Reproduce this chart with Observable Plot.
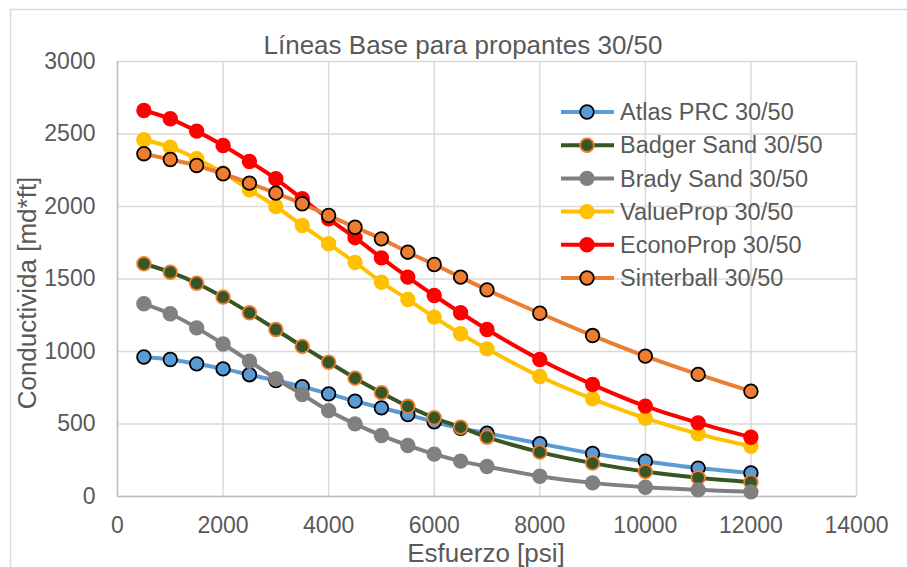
<!DOCTYPE html>
<html>
<head>
<meta charset="utf-8">
<script src="https://cdn.jsdelivr.net/npm/d3@7"></script>
<script src="https://cdn.jsdelivr.net/npm/@observablehq/plot@0.6"></script>
<style>
  body { margin: 0; background: #fff; }
  #chart { position: relative; width: 907px; height: 567px; overflow: hidden; }
</style>
</head>
<body>
<div id="chart"></div>
<script>
// Closure stress (psi) for every measured point
const stress = [500, 1000, 1500, 2000, 2500, 3000, 3500, 4000, 4500, 5000, 5500, 6000, 6500, 7000, 8000, 9000, 10000, 11000, 12000];

// Baseline conductivity (md*ft) per proppant
const atlas      = [962, 945, 915, 880, 840, 800, 758, 708, 658, 611, 565, 515, 470, 437, 365, 297, 243, 196, 162];
const badger     = [1605, 1547, 1471, 1375, 1267, 1152, 1035, 926, 816, 716, 622, 543, 478, 409, 306, 230, 172, 129, 99];
const brady      = [1329, 1260, 1163, 1052, 933, 812, 703, 592, 501, 421, 352, 292, 244, 207, 140, 94, 64, 46, 32];
const valueProp  = [2460, 2409, 2329, 2232, 2115, 2000, 1869, 1743, 1614, 1478, 1359, 1237, 1122, 1018, 828, 674, 540, 432, 347];
const econoProp  = [2662, 2605, 2520, 2421, 2310, 2191, 2053, 1915, 1785, 1646, 1513, 1386, 1267, 1152, 945, 772, 623, 508, 409];
const sinterball = [2364, 2324, 2283, 2226, 2161, 2092, 2019, 1938, 1857, 1777, 1685, 1600, 1513, 1425, 1264, 1110, 968, 842, 726];

const seriesNames = ["Atlas PRC 30/50", "Badger Sand 30/50", "Brady Sand 30/50", "ValueProp 30/50", "EconoProp 30/50", "Sinterball 30/50"];
const lineColors  = ["#5B9BD5", "#375623", "#808080", "#FFC000", "#FF0000", "#ED7D31"];
const dotStrokes  = ["#000000", "#ED7D31", "#808080", "#FFC000", "#FF0000", "#000000"];

const xTicks = [0, 2000, 4000, 6000, 8000, 10000, 12000, 14000];
const yTicks = [0, 500, 1000, 1500, 2000, 2500, 3000];

const titleText = "Líneas Base para propantes 30/50";
const xLabel = "Esfuerzo [psi]";
const yLabel = "Conductivida [md*ft]";

const seriesValues = [atlas, badger, brady, valueProp, econoProp, sinterball];
const rows = seriesValues.map((vals, i) =>
  stress.map((s, j) => ({ stress: s, value: vals[j], series: seriesNames[i] }))
);

const textColor = "#595959";
const fontFamily = "'Liberation Sans', Arial, sans-serif";

const marks = [
  Plot.gridY(yTicks, { stroke: "#d9d9d9", strokeOpacity: 1, strokeWidth: 1.5 }),
  Plot.gridX(xTicks, { stroke: "#d9d9d9", strokeOpacity: 1, strokeWidth: 1.5 }),
  Plot.ruleX([0], { stroke: "#bfbfbf", strokeWidth: 1.5 }),
  Plot.ruleY([0], { stroke: "#bfbfbf", strokeWidth: 1.5 }),
  Plot.axisY(yTicks, { tickSize: 0, tickPadding: 22, label: null, tickFormat: d => String(d), fill: textColor, fontSize: 23 }),
  Plot.axisX(xTicks, { tickSize: 0, tickPadding: 20, label: null, tickFormat: d => String(d), fill: textColor, fontSize: 23 }),
  Plot.text([titleText], { frameAnchor: "top", textAnchor: "middle", lineAnchor: "bottom", dx: -24, dy: -8, fill: textColor, fontSize: 26 }),
  Plot.text([xLabel], { frameAnchor: "bottom", textAnchor: "middle", lineAnchor: "middle", dx: -1, dy: 57, fill: textColor, fontSize: 26 }),
  Plot.text([yLabel], { frameAnchor: "left", textAnchor: "middle", lineAnchor: "middle", rotate: -90, dx: -90, dy: 14, fill: textColor, fontSize: 26 })
];

rows.forEach((r, i) => {
  marks.push(Plot.line(r, { x: "stress", y: "value", stroke: lineColors[i], strokeWidth: 4, curve: "catmull-rom" }));
  marks.push(Plot.dot(r, { x: "stress", y: "value", r: 6.8, fill: lineColors[i], stroke: dotStrokes[i], strokeWidth: 1.8 }));
});

const chart = Plot.plot({
  width: 907,
  height: 567,
  marginLeft: 117,
  marginRight: 51,
  marginTop: 61,
  marginBottom: 71,
  style: { fontFamily, fontSize: "23px", background: "#fff", overflow: "visible" },
  x: { domain: [0, 14000] },
  y: { domain: [0, 3000] },
  marks
});

// Outer chart-area border
const svg = d3.select(chart);
svg.insert("rect", ":first-child")
  .attr("x", 10.5).attr("y", 9.5).attr("width", 1000).attr("height", 1000)
  .attr("fill", "none").attr("stroke", "#d9d9d9").attr("stroke-width", 1.5);

// Legend inside the plot area, upper right
const legend = svg.append("g").attr("transform", "translate(561,112)");
seriesNames.forEach((name, i) => {
  const g = legend.append("g").attr("transform", `translate(0,${i * 33.2})`);
  g.append("line").attr("x1", 0).attr("x2", 53).attr("y1", 0).attr("y2", 0)
    .attr("stroke", lineColors[i]).attr("stroke-width", 4);
  g.append("circle").attr("cx", 26).attr("cy", 0).attr("r", 6.8)
    .attr("fill", lineColors[i]).attr("stroke", dotStrokes[i]).attr("stroke-width", 1.8);
  g.append("text").attr("x", 59).attr("y", 0).attr("dy", "0.35em")
    .attr("text-anchor", "start")
    .attr("fill", textColor).attr("font-size", 23.5).attr("font-family", fontFamily)
    .text(name);
});

document.getElementById("chart").appendChild(chart);
</script>
</body>
</html>
